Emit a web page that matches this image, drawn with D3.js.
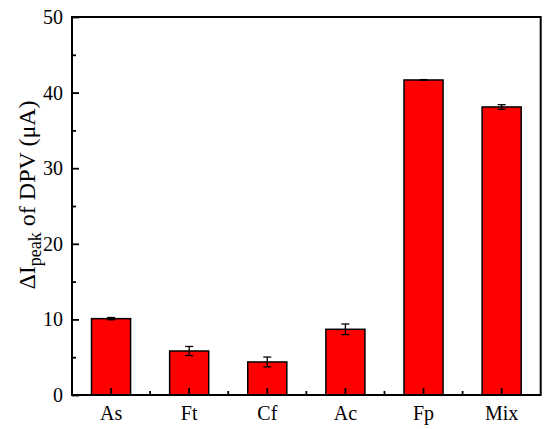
<!DOCTYPE html>
<html><head><meta charset="utf-8">
<script src="https://cdn.jsdelivr.net/npm/d3@7/dist/d3.min.js"></script>
<style>body{margin:0;background:#fff}</style>
</head><body><svg id="c" width="550" height="429"></svg>
<script>
const categories = ["As","Ft","Cf","Ac","Fp","Mix"];
const values = [10.1, 5.82, 4.37, 8.69, 41.67, 38.1];
const errors = [0.15, 0.6, 0.65, 0.7, 0.05, 0.3];
const yTicks = [0,10,20,30,40,50];
const yMinor = [5,15,25,35,45];

const svg = d3.select("#c");
const m = {l:72, t:17, r:540.7, b:395};
const font = "Liberation Serif, Times New Roman, serif";
const x = d3.scaleBand().domain(categories).range([m.l, m.r]).padding(0);
const y = d3.scaleLinear().domain([0,50]).range([m.b, m.t]);
const bw = x.bandwidth()*0.5;

const g = svg.append("g");
g.selectAll("rect.bar").data(categories).join("rect")
  .attr("x", d=>x(d)+x.bandwidth()/2-bw/2)
  .attr("y", (d,i)=>y(values[i]))
  .attr("width", bw)
  .attr("height", (d,i)=>y(0)-y(values[i]))
  .attr("fill","#ff0000").attr("stroke","#000").attr("stroke-width",1.5);

// error bars
const eg = g.selectAll("g.err").data(categories).join("g").attr("stroke","#000").attr("stroke-width",1.3);
eg.append("line").attr("x1",d=>x(d)+x.bandwidth()/2).attr("x2",d=>x(d)+x.bandwidth()/2)
  .attr("y1",(d,i)=>y(values[i]+errors[i])).attr("y2",(d,i)=>y(values[i]-errors[i]));
eg.append("line").attr("x1",d=>x(d)+x.bandwidth()/2-4).attr("x2",d=>x(d)+x.bandwidth()/2+4)
  .attr("y1",(d,i)=>y(values[i]+errors[i])).attr("y2",(d,i)=>y(values[i]+errors[i]));
eg.append("line").attr("x1",d=>x(d)+x.bandwidth()/2-4).attr("x2",d=>x(d)+x.bandwidth()/2+4)
  .attr("y1",(d,i)=>y(values[i]-errors[i])).attr("y2",(d,i)=>y(values[i]-errors[i]));

// frame
svg.append("rect").attr("x",m.l).attr("y",m.t).attr("width",m.r-m.l).attr("height",m.b-m.t)
  .attr("fill","none").attr("stroke","#000").attr("stroke-width",2);

// y axis
const ya = svg.append("g").attr("transform",`translate(${m.l},0)`)
  .call(d3.axisLeft(y).tickValues(yTicks).tickSize(-7).tickPadding(9).tickFormat(d3.format("d")));
ya.select(".domain").remove();
ya.selectAll("line").attr("stroke-width",1.8);
ya.selectAll("text").attr("font-family",font).attr("font-size",20).attr("fill","#000");
const yb = svg.append("g").attr("transform",`translate(${m.l},0)`)
  .call(d3.axisLeft(y).tickValues(yMinor).tickSize(-4).tickFormat(""));
yb.select(".domain").remove(); yb.selectAll("line").attr("stroke-width",1.8);

// x axis
const xa = svg.append("g").attr("transform",`translate(0,${m.b})`)
  .call(d3.axisBottom(x).tickSize(-7).tickPadding(11));
xa.select(".domain").remove();
xa.selectAll("line").attr("stroke-width",1.8);
xa.selectAll("text").attr("font-family",font).attr("font-size",20).attr("fill","#000");
const xMinor = categories.slice(1).map(d=>x(d));
svg.append("g").selectAll("line").data(xMinor).join("line")
  .attr("x1",d=>d).attr("x2",d=>d).attr("y1",m.b).attr("y2",m.b-4)
  .attr("stroke","#000").attr("stroke-width",1.8);

// y label
const t = svg.append("text").attr("transform","translate(35,195) rotate(-90)")
  .attr("text-anchor","middle").attr("font-family",font).attr("font-size",24).attr("fill","#000");
t.append("tspan").text("ΔI");
t.append("tspan").attr("font-size",18).attr("dy",6).text("peak");
t.append("tspan").attr("dy",-6).text(" of DPV (μA)");
</script></body></html>
